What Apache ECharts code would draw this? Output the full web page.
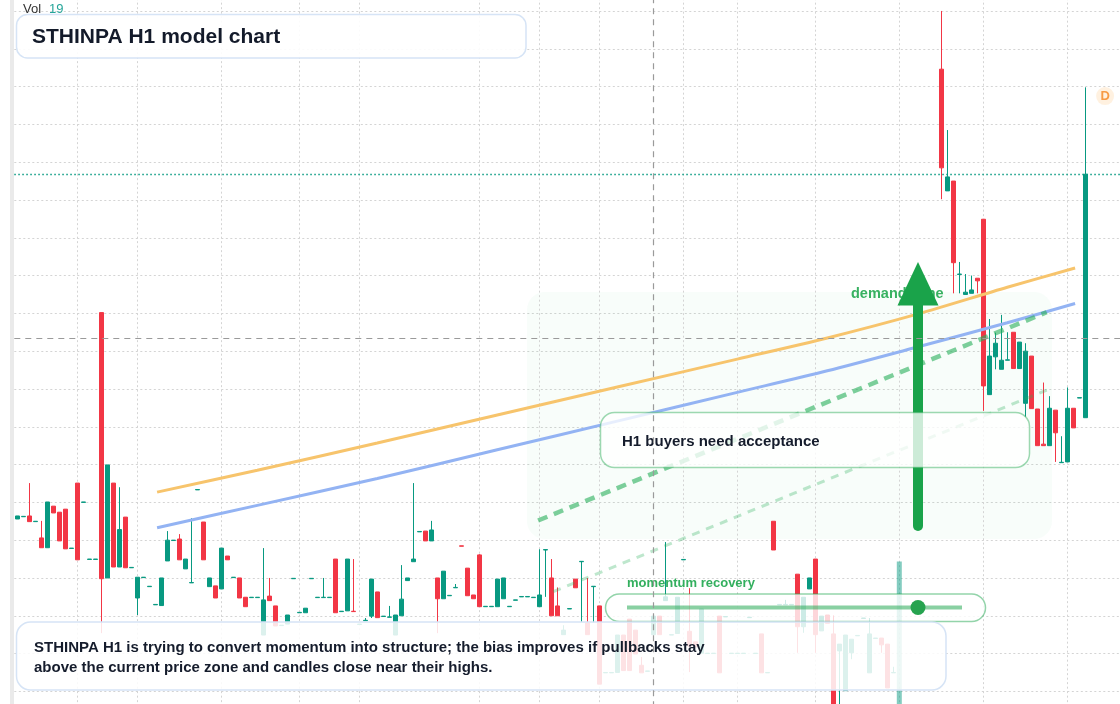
<!DOCTYPE html>
<html><head><meta charset="utf-8">
<script src="https://cdn.jsdelivr.net/npm/echarts@6/dist/echarts.min.js"></script>
<style>html,body{margin:0;padding:0;background:#fff}#c{width:1120px;height:704px}</style>
</head><body><div id="c"></div>
<script>
// hourly slots (185 slots, last few empty)
const categories = Array.from({length: 185}, (_, i) => 'H' + i);

// candles: [open, close, low, high]
const ohlc = [
[105.56,105.64,105.56,105.64],[105.62,105.63,105.62,105.63],[105.64,105.49,105.49,106.51],[105.49,105.50,105.49,105.50],
[105.06,104.80,104.80,105.51],[104.80,106.01,104.80,106.01],[105.90,105.72,105.72,105.90],[105.74,104.98,104.98,105.74],
[105.82,104.77,104.77,105.82],[104.78,104.79,104.78,104.79],[106.51,104.48,104.48,106.51],[106.00,106.01,106.00,106.01],
[104.49,104.50,104.49,104.50],[104.49,104.50,104.49,104.50],[111.02,103.98,102.54,111.02],[104.00,106.99,104.00,106.99],
[106.51,104.29,104.29,106.51],[104.29,105.28,104.29,106.40],[105.61,104.27,104.27,105.61],[104.27,104.28,104.27,104.28],
[103.47,104.02,103.02,104.02],[104.01,104.02,104.01,104.02],[103.77,103.78,103.77,103.78],[103.29,103.30,103.29,103.30],
[103.27,104.00,103.27,104.00],[104.45,105.00,104.45,105.24],[104.99,105.00,104.99,105.00],[105.03,104.48,104.48,105.16],
[104.24,104.50,104.24,104.50],[103.87,103.88,103.87,105.58],[106.33,106.34,106.33,106.34],[105.48,104.48,104.48,105.48],
[103.77,104.00,103.77,104.00],[103.79,103.47,103.47,103.79],[103.71,104.79,103.71,104.79],[104.58,104.48,104.48,104.58],
[104.01,104.02,104.01,104.02],[104.00,103.47,103.47,104.00],[103.49,103.24,103.24,103.49],[103.48,103.49,103.48,103.49],
[103.48,103.49,103.48,103.49],[102.49,103.42,102.49,104.79],[103.52,103.40,103.40,104.00],[103.26,102.73,102.73,103.26],
[102.74,102.75,102.74,102.75],[102.78,103.02,102.78,103.02],[103.98,103.99,103.98,103.99],[103.08,103.09,103.08,103.09],
[103.08,103.20,103.08,103.20],[103.98,103.99,103.98,103.99],[103.48,103.49,103.48,103.49],[103.48,103.49,103.48,104.00],
[103.48,103.49,103.48,103.49],[104.50,103.08,103.08,104.50],[103.11,103.12,103.11,103.12],[103.13,104.50,103.13,104.50],
[103.12,103.11,103.11,104.50],[102.77,102.78,102.77,102.78],[102.87,102.88,102.87,102.94],[102.99,103.97,102.94,103.97],
[103.63,102.95,102.95,103.63],[102.98,102.99,102.98,102.99],[102.96,102.97,102.96,103.26],[102.49,103.02,102.49,103.02],
[103.00,103.44,103.00,104.34],[103.93,104.00,103.93,104.00],[104.43,104.50,104.43,106.51],[105.22,105.23,105.22,105.23],
[105.24,104.98,104.98,105.24],[104.98,105.27,104.98,105.51],[104.00,103.45,102.54,104.00],[103.45,104.18,103.45,104.18],
[103.53,103.54,103.53,103.54],[103.74,103.75,103.74,103.84],[104.85,104.84,104.84,104.85],[104.26,103.53,103.53,104.26],
[103.55,103.45,103.45,103.55],[104.61,103.24,103.24,104.63],[103.24,103.25,103.24,103.25],[103.24,103.25,103.24,103.25],
[103.24,103.97,103.24,103.97],[103.45,104.00,103.45,104.00],[103.24,103.25,103.24,103.25],[103.41,103.42,103.41,103.42],
[103.50,103.51,103.50,103.51],[103.50,103.51,103.50,103.51],[103.48,103.49,103.48,103.49],[103.24,103.55,103.24,104.76],
[104.74,104.75,103.50,104.75],[104.00,103.00,103.00,104.50],[103.26,103.00,103.00,103.75],[102.50,102.62,102.50,102.75],
[103.18,103.19,103.18,103.19],[103.97,103.74,103.74,103.97],[104.43,104.44,102.84,104.44],[102.81,102.50,102.50,104.00],
[103.77,103.78,102.81,103.78],[103.26,101.19,101.19,103.26],[101.49,101.50,101.49,101.50],[101.49,101.50,101.49,101.50],
[101.50,102.49,101.50,102.49],[102.49,101.55,101.55,102.49],[102.91,101.55,101.55,102.91],[102.62,101.99,101.99,102.62],
[101.69,101.49,101.49,101.91],[101.53,101.54,101.53,101.54],[102.50,102.99,102.50,102.99],[102.99,102.50,102.50,102.99],
[103.40,103.50,103.40,104.95],[102.49,102.50,102.49,102.50],[102.53,103.49,102.53,103.49],[104.48,104.49,104.48,104.49],
[102.59,102.20,101.51,103.73],[102.31,102.18,102.18,102.31],[102.01,103.18,102.01,103.18],[102.00,102.01,102.00,102.01],
[102.00,102.01,102.00,102.01],[102.99,101.49,101.49,102.99],[102.97,102.98,102.97,102.98],[102.00,102.01,102.00,102.01],
[102.00,102.01,102.00,102.01],[102.00,102.01,102.00,102.01],[102.95,102.96,102.95,102.96],[102.00,102.01,102.00,102.01],
[102.52,101.49,101.49,102.52],[101.49,101.50,101.49,101.50],[105.50,104.74,104.74,105.50],[103.29,103.30,103.29,103.30],
[103.29,103.30,103.29,103.42],[103.29,103.30,103.29,103.30],[104.10,102.71,102.02,104.10],[102.71,103.49,102.55,103.49],
[103.71,104.00,103.71,104.00],[104.50,102.50,102.02,104.50],[102.60,102.99,102.60,102.99],[103.02,102.80,102.80,103.02],
[102.52,100.40,100.40,103.01],[102.07,102.25,100.50,102.25],[101.02,102.49,101.02,102.49],[102.02,102.38,101.85,102.38],
[102.47,102.48,102.47,102.48],[102.93,102.94,102.93,102.94],[101.49,102.52,101.49,102.94],[102.40,102.41,102.40,102.41],
[102.41,102.23,102.02,102.41],[102.25,101.09,101.09,102.25],[101.49,101.50,101.49,101.65],[100.20,100.55,100.10,100.60],
[100.55,100.35,100.25,100.60],[100.35,100.50,100.30,100.60],[100.50,100.30,100.20,100.55],[100.30,100.45,100.25,100.55],
[100.45,100.40,100.30,100.55],[100.40,100.55,100.35,100.60],[117.46,114.85,114.02,119.00],[114.24,114.61,114.24,115.85],
[114.50,112.34,111.53,114.50],[112.03,112.04,111.53,112.36],[111.50,111.56,111.50,112.04],[111.53,111.62,111.53,112.00],
[111.93,111.86,111.53,111.93],[113.49,109.08,108.42,113.49],[108.85,109.87,108.85,110.85],[109.85,110.21,109.52,110.49],
[109.52,109.76,109.52,110.96],[109.76,109.77,109.76,110.50],[110.50,109.54,109.54,110.50],[109.54,110.24,109.54,110.24],
[108.62,110.00,108.26,110.21],[109.87,108.48,108.48,109.87],[108.47,107.50,107.50,108.47],[107.54,107.50,107.50,109.17],
[107.50,108.49,107.50,108.81],[108.44,107.84,107.07,108.44],[107.05,107.06,107.05,107.75],[107.07,108.49,107.07,109.04],
[108.49,107.97,107.97,108.49],[108.76,108.77,108.76,108.77],[108.24,114.68,108.24,116.98]
];

// volume (only the bars that rise into view are known)
const volume = categories.map(() => null);
volume[147] = 138;
volume[178] = 19;

// moving averages read at sample slots
const maSlots = [23.3, 40, 60, 80, 100, 120, 135, 150, 165, 176.3];
const maSlow = [106.27, 106.85, 107.57, 108.31, 109.05, 109.79, 110.35, 110.98, 111.69, 112.20];
const maFast = [105.33, 105.92, 106.63, 107.39, 108.15, 108.91, 109.48, 110.11, 110.75, 111.26];

// trend lines [slot, price]
const trendMain = [[86.8, 105.52], [171.57, 111.03]];
const trendLow = [[89.33, 103.64], [171.57, 108.97]];

// reference lines
const sessionSlots = [10, 20, 34, 47, 57, 77, 87, 97, 111, 120, 133, 147, 161, 175];
const crossSlot = 106;
const crossPrice = 110.34;
const lastPrice = 114.68;
const dividendMark = [181.3, 116.75];

const UP = '#089981', DOWN = '#f23645';
const FONT = '"Liberation Sans", Arial, sans-serif';

const chart = echarts.init(document.getElementById('c'), null, {renderer: 'canvas'});

const gridLineStyle = {color: '#d4d4d4', type: [2, 2.5], width: 1};

chart.setOption({
  animation: false,
  backgroundColor: '#ffffff',
  grid: {left: 14.3, top: 0, width: 1110, height: 729.16, containLabel: false, outerBoundsMode: 'none'},
  xAxis: [
    {type: 'category', data: categories, boundaryGap: true, axisLine: {show: false}, axisTick: {show: false}, axisLabel: {show: false}, splitLine: {show: false}},
    {type: 'value', min: -0.5, max: 184.5, show: false, splitLine: {show: false}}
  ],
  yAxis: [
    {type: 'value', min: 100, max: 119.29, interval: 1, axisLine: {show: false}, axisTick: {show: false}, axisLabel: {show: false},
     splitLine: {show: true, showMaxLine: false, showMinLine: false, lineStyle: gridLineStyle}},
    {type: 'value', min: 0, max: 600, show: false, splitLine: {show: false}}
  ],
  series: [
    {
      name: 'Vol', type: 'bar', xAxisIndex: 0, yAxisIndex: 1, data: volume, barWidth: 5, z: 1,
      itemStyle: {color: 'rgba(8,153,129,0.5)'}, silent: true,
      markLine: {
        silent: true, symbol: ['none', 'none'], z: 1, label: {show: false},
        lineStyle: gridLineStyle,
        data: sessionSlots.map(s => ({xAxis: categories[s]}))
      }
    },
    {
      name: 'STHINPA', type: 'candlestick', xAxisIndex: 0, yAxisIndex: 0, data: ohlc, barWidth: 4, z: 3,
      itemStyle: {color: UP, color0: DOWN, borderColor: UP, borderColor0: DOWN, borderWidth: 1},
      markLine: {
        silent: true, symbol: ['none', 'none'], z: 40, label: {show: false},
        data: [
          {xAxis: categories[crossSlot], lineStyle: {color: '#9a9a9a', type: [6, 5], width: 1.2}},
          {yAxis: crossPrice, lineStyle: {color: '#9a9a9a', type: [6, 5], width: 1.2}},
          {yAxis: lastPrice, lineStyle: {color: UP, type: [1.5, 2.5], width: 1.3}}
        ]
      }
    },
    {
      name: 'MA slow', type: 'line', xAxisIndex: 1, yAxisIndex: 0, z: 5, smooth: 0.3, showSymbol: false, silent: true,
      data: maSlots.map((s, i) => [s, maSlow[i]]),
      lineStyle: {color: '#f7c46c', width: 3}
    },
    {
      name: 'MA fast', type: 'line', xAxisIndex: 1, yAxisIndex: 0, z: 5, smooth: 0.3, showSymbol: false, silent: true,
      data: maSlots.map((s, i) => [s, maFast[i]]),
      lineStyle: {color: '#93b3f3', width: 3}
    },
    {
      name: 'Trend', type: 'line', xAxisIndex: 1, yAxisIndex: 0, z: 6, showSymbol: false, silent: true,
      data: trendMain, lineStyle: {color: 'rgba(40,175,90,0.6)', width: 4.5, type: [10, 7]}
    },
    {
      name: 'Trend low', type: 'line', xAxisIndex: 1, yAxisIndex: 0, z: 6, showSymbol: false, silent: true,
      data: trendLow, lineStyle: {color: 'rgba(40,175,90,0.3)', width: 3, type: [8, 7]}
    },
    {
      name: 'D', type: 'scatter', xAxisIndex: 1, yAxisIndex: 0, z: 8, silent: true,
      data: [dividendMark], symbolSize: 18,
      itemStyle: {color: 'rgba(255,160,40,0.18)'},
      label: {show: true, position: 'inside', formatter: 'D', color: '#f5861f', fontWeight: 'bold', fontSize: 13, fontFamily: FONT}
    }
  ],
  graphic: [
    {type: 'rect', z: 10, silent: true, shape: {x: 10, y: 0, width: 4, height: 704}, style: {fill: '#eaeaea'}},
    {type: 'rect', z: 1, silent: true, shape: {x: 527, y: 292, width: 525, height: 247, r: 18}, style: {fill: 'rgba(34,197,94,0.03)'}},
    {type: 'text', z: 20, silent: true, style: {text: 'demand zone', x: 851, y: 294, verticalAlign: 'middle', align: 'left', fill: 'rgba(34,168,80,0.9)', font: 'bold 14.5px ' + FONT}},
    {type: 'rect', z: 21, silent: true, shape: {x: 913, y: 300, width: 10, height: 231, r: 5}, style: {fill: '#1aa34a'}},
    {type: 'polygon', z: 21, silent: true, shape: {points: [[918, 262], [897.5, 305.5], [938.5, 305.5]]}, style: {fill: '#1aa34a'}},
    {type: 'rect', z: 30, silent: true, shape: {x: 600.5, y: 412.5, width: 429, height: 55, r: 14}, style: {fill: 'rgba(255,255,255,0.78)', stroke: 'rgba(40,170,85,0.45)', lineWidth: 1.5}},
    {type: 'text', z: 31, silent: true, style: {text: 'H1 buyers need acceptance', x: 622, y: 441.5, verticalAlign: 'middle', align: 'left', fill: '#151c2c', font: 'bold 15px ' + FONT}},
    {type: 'text', z: 31, silent: true, style: {text: 'momentum recovery', x: 627, y: 583, verticalAlign: 'middle', align: 'left', fill: 'rgba(34,168,80,0.92)', font: 'bold 13px ' + FONT}},
    {type: 'rect', z: 30, silent: true, shape: {x: 605.5, y: 594, width: 380, height: 27.5, r: 13.75}, style: {fill: 'rgba(255,255,255,0.8)', stroke: 'rgba(40,170,85,0.5)', lineWidth: 1.5}},
    {type: 'line', z: 31, silent: true, shape: {x1: 627, y1: 607.5, x2: 962, y2: 607.5}, style: {stroke: 'rgba(40,170,85,0.55)', lineWidth: 4}},
    {type: 'circle', z: 32, silent: true, shape: {cx: 918, cy: 607.5, r: 7.5}, style: {fill: '#26a34f'}},
    {type: 'rect', z: 33, silent: true, shape: {x: 16.5, y: 622, width: 929.5, height: 68, r: 14}, style: {fill: 'rgba(255,255,255,0.86)', stroke: '#d6e4f6', lineWidth: 1.5}},
    {type: 'text', z: 34, silent: true, style: {text: 'STHINPA H1 is trying to convert momentum into structure; the bias improves if pullbacks stay', x: 34, y: 647.5, verticalAlign: 'middle', align: 'left', fill: '#151c2c', font: 'bold 15px ' + FONT}},
    {type: 'text', z: 34, silent: true, style: {text: 'above the current price zone and candles close near their highs.', x: 34, y: 667.5, verticalAlign: 'middle', align: 'left', fill: '#151c2c', font: 'bold 15px ' + FONT}},
    {type: 'rect', z: 33, silent: true, shape: {x: 16.5, y: 14.5, width: 509.5, height: 43.5, r: 11}, style: {fill: 'rgba(255,255,255,0.9)', stroke: '#d6e4f6', lineWidth: 1.5}},
    {type: 'text', z: 34, silent: true, style: {text: 'STHINPA H1 model chart', x: 32, y: 37, verticalAlign: 'middle', align: 'left', fill: '#131a2a', font: 'bold 21px ' + FONT}},
    {type: 'text', z: 34, silent: true, style: {text: 'Vol', x: 23, y: 9, verticalAlign: 'middle', align: 'left', fill: '#333333', font: '13px ' + FONT}},
    {type: 'text', z: 34, silent: true, style: {text: String(volume[178]), x: 49, y: 9, verticalAlign: 'middle', align: 'left', fill: '#26a69a', font: '13px ' + FONT}}
  ]
});
</script>
</body></html>
